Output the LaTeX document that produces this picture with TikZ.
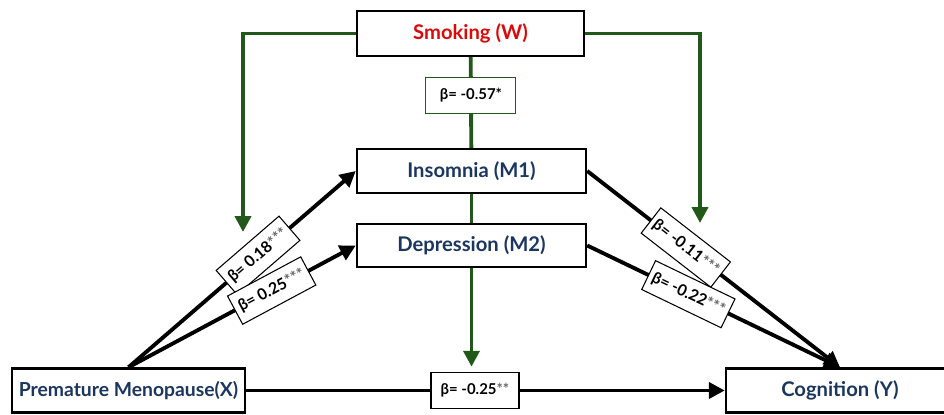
\documentclass[tikz,border=0pt]{standalone}
\usepackage{fontspec}
\setmainfont{Lato}
\usepackage{xcolor}
\usetikzlibrary{arrows.meta}

\definecolor{navy}{RGB}{27,54,95}
\definecolor{smokered}{RGB}{218,10,10}
\definecolor{modgreen}{RGB}{34,88,26}
\newcommand{\sig}[1]{{\color{black!60}#1}}

\tikzset{
  varbox/.style={draw, line width=1.4pt, fill=white, inner sep=0pt, text=navy,
    font=\fontsize{11.5}{13}\selectfont\bfseries},
  betabox/.style={draw, line width=0.6pt, fill=white, inner sep=1pt,
    minimum width=1.8cm, minimum height=0.72cm, font=\fontsize{8.5}{10}\selectfont\bfseries},
  slopebox/.style={betabox, sloped, inner xsep=2.5pt, minimum width=1.66cm, minimum height=0.64cm,
    font=\fontsize{9}{11}\selectfont\bfseries},
  pathline/.style={line width=2.2pt, -{Triangle[length=9pt,width=9pt]}},
  modline/.style={line width=2.2pt, draw=modgreen},
  modarrow/.style={modline, -{Triangle[length=9pt,width=9pt]}, color=modgreen}
}

\begin{document}
\begin{tikzpicture}
\clip (0,0) rectangle (18.88,8.28);
\node[varbox, minimum width=4.54cm, minimum height=0.9cm, text=smokered](smoke) at (9.41,7.61) {Smoking (W)};
\node[varbox, minimum width=4.58cm, minimum height=0.88cm](insom) at (9.43,4.86) {Insomnia (M1)};
\node[varbox, minimum width=4.58cm, minimum height=0.86cm](depr) at (9.43,3.37) {Depression (M2)};
\node[varbox, minimum width=4.66cm, minimum height=0.88cm, font=\fontsize{11}{13}\selectfont\bfseries](meno) at (2.57,0.47) {Premature Menopause(X)};
\node[varbox, minimum width=4.56cm, minimum height=0.88cm](cog) at (16.8,0.47) {Cognition (Y)};
\coordinate(lmod) at (4.86,3.64);
\coordinate(rmod) at (14.0,3.82);
%
\draw[modline](smoke) -- (insom) node[pos=0.42, betabox](b57){β= -0.57*};
\draw[modline](insom) -- (depr);
\draw[modarrow](smoke.west) -| (lmod);
\draw[modarrow](smoke.east) -| (rmod);
%
\draw[pathline](meno.north) -- (insom.west) node[pos=0.57, slopebox](b18){β= 0.18\sig{***}};
\draw[pathline](meno.north) -- (depr.west) node[pos=0.63, slopebox](b25a){β= 0.25\sig{***}};
\draw[pathline](insom.east) -- (cog.north) node[pos=0.39, slopebox](b11){β= -0.11\sig{***}};
\draw[pathline](depr.east) -- (cog.north) node[pos=0.4, slopebox](b22){β= -0.22\sig{***}};
\draw[pathline](meno.east) -- (cog.west) node[pos=0.478, betabox, minimum width=1.76cm](b25){β= -0.25\sig{**}};
\draw[modarrow](depr) -- ([yshift=3pt]depr |- b25.north);
\end{tikzpicture}
\end{document}
